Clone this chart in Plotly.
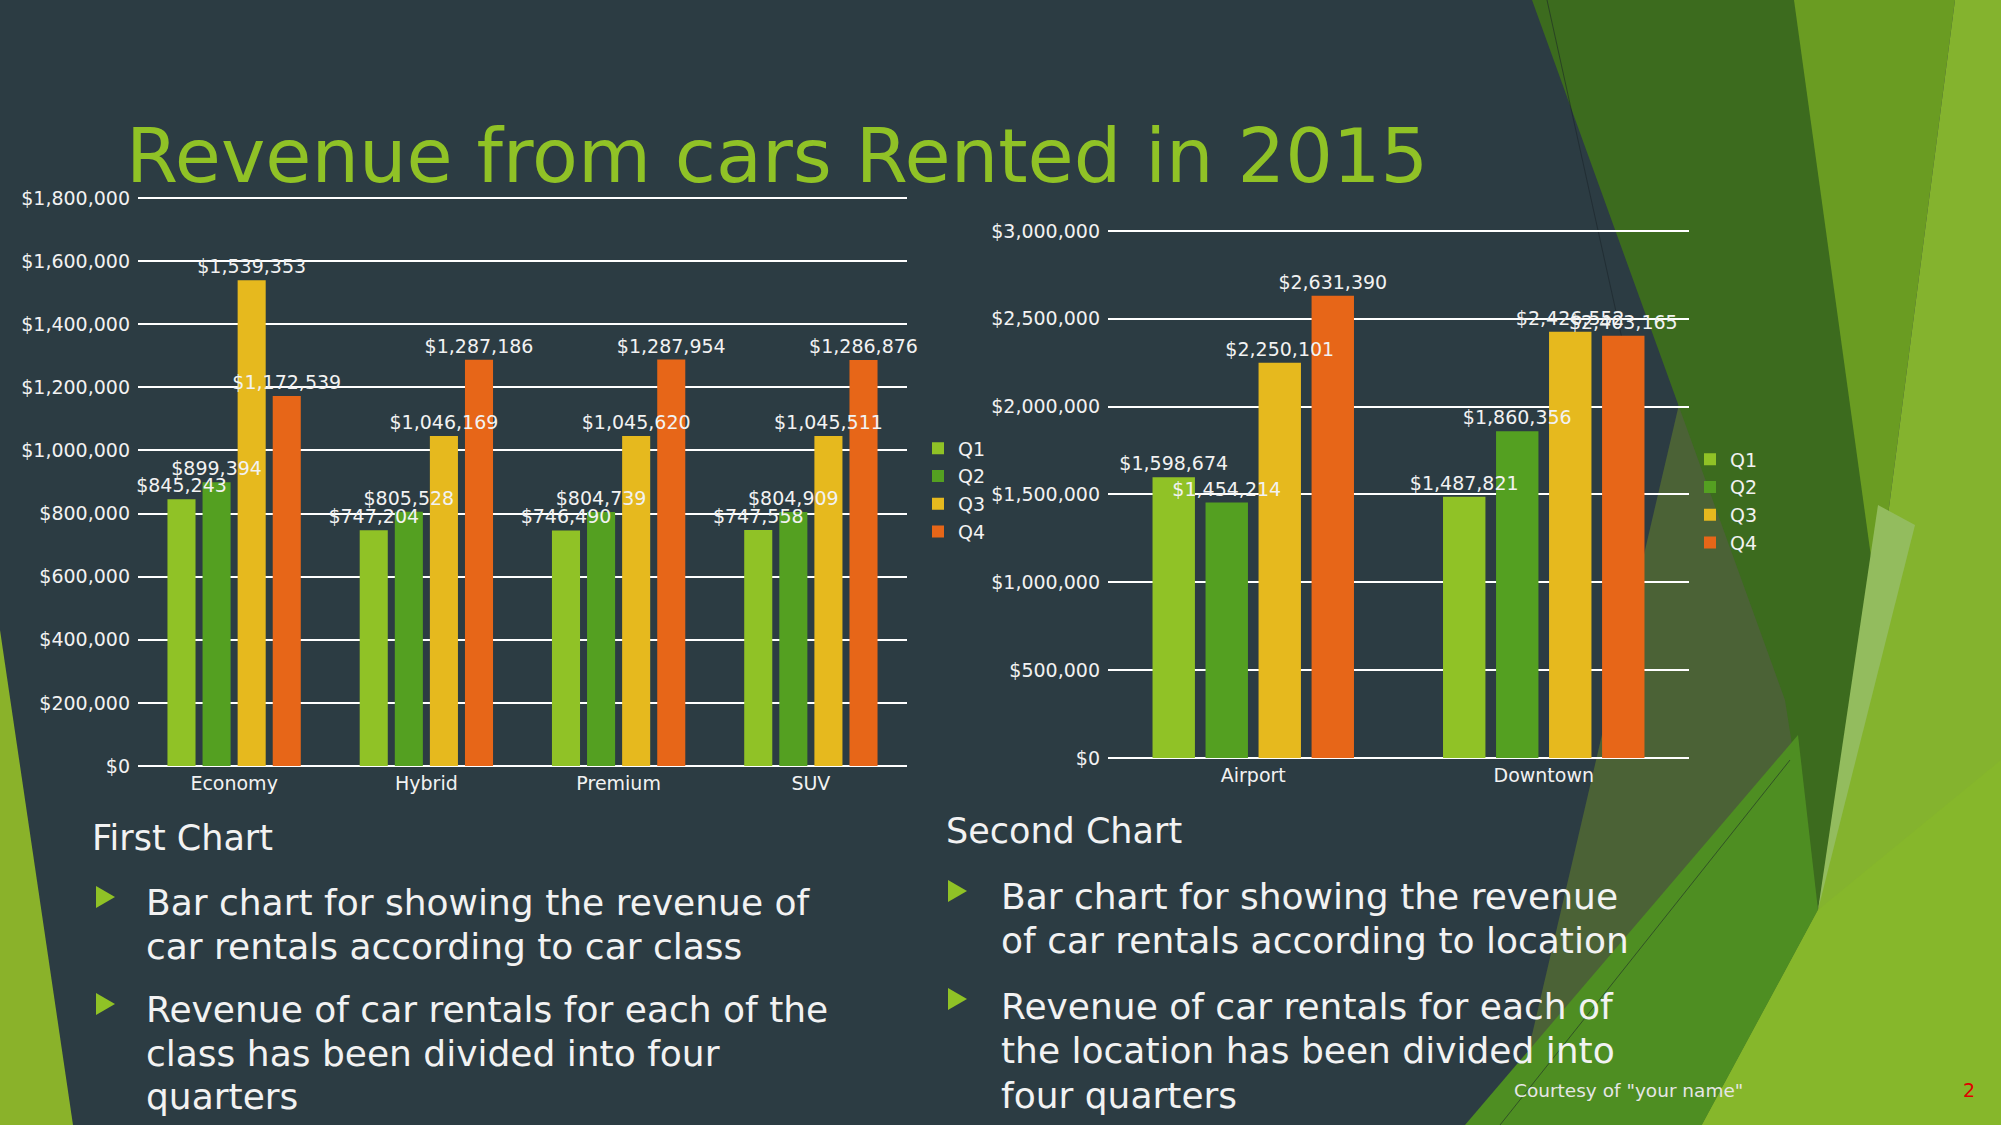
import plotly.graph_objects as go

W, H = 2001, 1125

# ---------------- data ----------------
car_classes = ["Economy", "Hybrid", "Premium", "SUV"]
class_q1 = [845243, 747204, 746490, 747558]
class_q2 = [899394, 805528, 804739, 804909]
class_q3 = [1539353, 1046169, 1045620, 1045511]
class_q4 = [1172539, 1287186, 1287954, 1286876]

locations = ["Airport", "Downtown"]
loc_q1 = [1598674, 1487821]
loc_q2 = [1454214, 1860356]
loc_q3 = [2250101, 2426552]
loc_q4 = [2631390, 2403165]

quarters = ["Q1", "Q2", "Q3", "Q4"]
colors = ["#90C226", "#54A021", "#E6B91E", "#E76618"]

FONT = "DejaVu Sans"
TXT = "#F2F2F2"
BG = "#2C3C43"


def P(x, y):
    return x / W, 1 - y / H


def poly(points):
    s = ""
    for i, (x, y) in enumerate(points):
        px, py = P(x, y)
        s += ("M" if i == 0 else "L") + f"{px:.5f},{py:.5f} "
    return s + "Z"


fig = go.Figure()

class_series = [class_q1, class_q2, class_q3, class_q4]
loc_series = [loc_q1, loc_q2, loc_q3, loc_q4]

# visible bars
for q, c, v in zip(quarters, colors, class_series):
    fig.add_trace(go.Bar(x=car_classes, y=v, name=q, marker_color=c, marker_line_width=0,
                         xaxis="x", yaxis="y", legend="legend", hoverinfo="x+y+name"))
for q, c, v in zip(quarters, colors, loc_series):
    fig.add_trace(go.Bar(x=locations, y=v, name=q, marker_color=c, marker_line_width=0,
                         xaxis="x2", yaxis="y2", legend="legend2", hoverinfo="x+y+name"))

# data labels on overlay axes so they sit on top of all bars
label_font = dict(family=FONT, size=19, color=TXT)
for q, v in zip(quarters, class_series):
    fig.add_trace(go.Bar(x=car_classes, y=v, name=q, marker_color="rgba(0,0,0,0)",
                         marker_line_width=0, texttemplate="$%{y:,}", textposition="outside",
                         textangle=0, constraintext="none", cliponaxis=False,
                         outsidetextfont=label_font, showlegend=False, hoverinfo="skip",
                         xaxis="x3", yaxis="y3"))
for q, v in zip(quarters, loc_series):
    fig.add_trace(go.Bar(x=locations, y=v, name=q, marker_color="rgba(0,0,0,0)",
                         marker_line_width=0, texttemplate="$%{y:,}", textposition="outside",
                         textangle=0, constraintext="none", cliponaxis=False,
                         outsidetextfont=label_font, showlegend=False, hoverinfo="skip",
                         xaxis="x4", yaxis="y4"))

# ---------------- background decoration ----------------
shapes = []


def add_poly(pts, color):
    shapes.append(dict(type="path", path=poly(pts), xref="paper", yref="paper",
                       fillcolor=color, line=dict(width=0), layer="below"))


add_poly([(0, 630), (73, 1125), (0, 1125)], "#8AB22A")
add_poly([(1680, 400), (1511, 1125), (1960, 1125)], "#4B6236")
add_poly([(1532, 0), (1880, 0), (1877, 525), (1818, 910), (1785, 700)], "#3C6B1E")
add_poly([(1794, 0), (1955, 0), (1877, 600)], "#6A9C22")
add_poly([(1955, 0), (2001, 0), (2001, 1125), (1702, 1125), (1818, 910), (1877, 600)], "#84B32E")
add_poly([(1878, 505), (1915, 525), (1818, 910)], "#93BC5E")
add_poly([(1465, 1125), (1798, 735), (1818, 910), (1702, 1125)], "#4E8E22")
add_poly([(1702, 1125), (1818, 910), (2001, 760), (2001, 1125)], "#86B72B")

for (x0, y0, x1, y1) in [(1547, 0, 1640, 420), (1500, 1125, 1790, 760)]:
    a0, b0 = P(x0, y0)
    a1, b1 = P(x1, y1)
    shapes.append(dict(type="line", x0=a0, y0=b0, x1=a1, y1=b1, xref="paper", yref="paper",
                       line=dict(color="rgba(25,35,40,0.55)", width=1), layer="below"))

for (x, y) in [(96, 897), (96, 1004), (948, 891), (948, 999)]:
    shapes.append(dict(type="path", path=poly([(x, y - 11), (x, y + 11), (x + 19, y)]),
                       xref="paper", yref="paper", fillcolor="#90C226",
                       line=dict(width=0), layer="above"))

# ---------------- text ----------------
ann = []


def text(x, y, t, size, color=TXT, anchor="left"):
    px, py = P(x, y)
    ann.append(dict(x=px, y=py, xref="paper", yref="paper", text=t, showarrow=False,
                    xanchor=anchor, yanchor="middle",
                    font=dict(family=FONT, size=size, color=color)))


text(124, 156, "Revenue from cars Rented in 2015", 75, "#90C226")
text(90, 838, "First Chart", 35)
text(144, 902, "Bar chart for showing the revenue of", 36)
text(144, 946, "car rentals according to car class", 36)
text(144, 1009, "Revenue of car rentals for each of the", 36)
text(144, 1053, "class has been divided into four", 36)
text(144, 1096, "quarters", 36)

text(944, 831, "Second Chart", 35)
text(999, 896, "Bar chart for showing the revenue", 36)
text(999, 940, "of car rentals according to location", 36)
text(999, 1006, "Revenue of car rentals for each of", 36)
text(999, 1050, "the location has been divided into", 36)
text(999, 1095, "four quarters", 36)

text(1628, 1090, "Courtesy of \"your name\"", 18.5, "#E6E6E6", anchor="center")
text(1969, 1090, "2", 19, "#E00000", anchor="center")

# ---------------- axes ----------------
tickfont = dict(family=FONT, size=19, color=TXT)
PAD = 1.003
x1d = [138 / W, 907 / W]
y1d = [1 - 766 / H, 1 - (198 - 568 * (PAD - 1)) / H]
x2d = [1108 / W, 1689 / W]
y2d = [1 - 758 / H, 1 - (231 - 527 * (PAD - 1)) / H]
r1 = [0, 1800000 * PAD]
r2 = [0, 3000000 * PAD]

common_y = dict(showgrid=True, gridcolor="#FFFFFF", gridwidth=1.5, zeroline=True,
                zerolinecolor="#FFFFFF", zerolinewidth=1.5, showline=False,
                ticks="", tickfont=tickfont, tickprefix="$", tickformat=",",
                ticklabelstandoff=7, automargin=False)
common_x = dict(showgrid=False, showline=False, ticks="", tickfont=tickfont,
                type="category", automargin=False, ticklabelstandoff=4)
hidden = dict(visible=False, showgrid=False, zeroline=False, automargin=False)

fig.update_layout(
    width=W, height=H, autosize=False,
    margin=dict(l=0, r=0, t=0, b=0, pad=0, autoexpand=False),
    paper_bgcolor=BG, plot_bgcolor="rgba(0,0,0,0)",
    font=dict(family=FONT, color=TXT),
    barmode="group", bargap=0.27, bargroupgap=0.2,
    xaxis=dict(domain=x1d, anchor="y", **common_x),
    yaxis=dict(domain=y1d, anchor="x", range=r1, dtick=200000, **common_y),
    xaxis2=dict(domain=x2d, anchor="y2", **common_x),
    yaxis2=dict(domain=y2d, anchor="x2", range=r2, dtick=500000, **common_y),
    xaxis3=dict(overlaying="x", anchor="y3", type="category", **hidden),
    yaxis3=dict(overlaying="y", anchor="x3", range=r1, **hidden),
    xaxis4=dict(overlaying="x2", anchor="y4", type="category", **hidden),
    yaxis4=dict(overlaying="y2", anchor="x4", range=r2, **hidden),
    legend=dict(x=918 / W, y=1 - 490 / H, xanchor="left", yanchor="middle",
                bgcolor="rgba(0,0,0,0)", font=dict(family=FONT, size=19, color=TXT),
                itemwidth=30, tracegroupgap=0),
    legend2=dict(x=1690 / W, y=1 - 501 / H, xanchor="left", yanchor="middle",
                 bgcolor="rgba(0,0,0,0)", font=dict(family=FONT, size=19, color=TXT),
                 itemwidth=30, tracegroupgap=0),
    shapes=shapes,
    annotations=ann,
)

fig.write_html("out.html", config={"displayModeBar": False},
               post_script="document.body.style.margin='0';document.body.style.overflow='hidden';")
